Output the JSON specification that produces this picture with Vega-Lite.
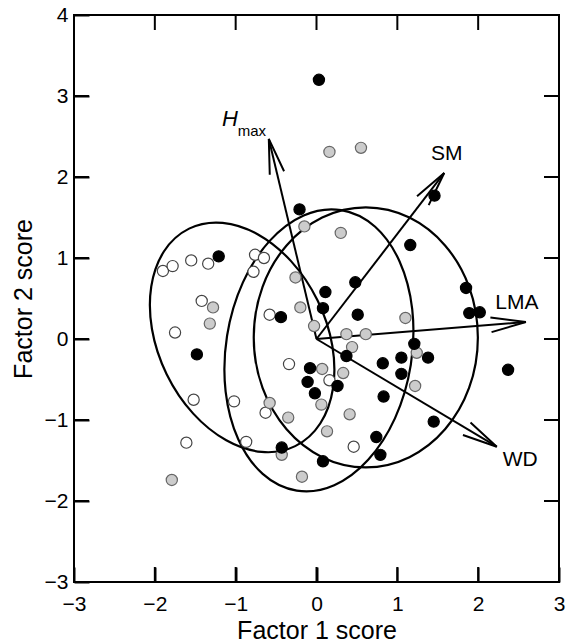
{
  "$schema": "https://vega.github.io/schema/vega-lite/v6.json",
  "width": 485,
  "height": 567,
  "autosize": {"type": "none"},
  "padding": {"left": 74, "top": 15, "right": 7, "bottom": 61},
  "background": "white",
  "config": {
    "font": "Liberation Sans",
    "view": {"stroke": "black", "strokeWidth": 2}
  },
  "datasets": {
    "xticks": [{"v": -3}, {"v": -2}, {"v": -1}, {"v": 0}, {"v": 1}, {"v": 2}, {"v": 3}],
    "yticks": [{"v": -3}, {"v": -2}, {"v": -1}, {"v": 0}, {"v": 1}, {"v": 2}, {"v": 3}, {"v": 4}],
    "arrows": [
      {"label": "Hmax", "x0": 0, "y0": 0, "x": -0.59, "y": 2.47},
      {"label": "SM", "x0": 0, "y0": 0, "x": 1.58, "y": 2.05},
      {"label": "LMA", "x0": 0, "y0": 0, "x": 2.59, "y": 0.21},
      {"label": "WD", "x0": 0, "y0": 0, "x": 2.23, "y": -1.33}
    ],
    "pts": [
      {"g": "open", "x": -1.90, "y": 0.84}, {"g": "open", "x": -1.78, "y": 0.90}, {"g": "open", "x": -1.55, "y": 0.97},
      {"g": "open", "x": -1.34, "y": 0.93}, {"g": "open", "x": -0.76, "y": 1.04}, {"g": "open", "x": -0.65, "y": 1.00},
      {"g": "open", "x": -0.78, "y": 0.83}, {"g": "open", "x": -1.42, "y": 0.47}, {"g": "open", "x": -1.75, "y": 0.08},
      {"g": "open", "x": -0.58, "y": 0.30}, {"g": "open", "x": -0.34, "y": -0.31}, {"g": "open", "x": -1.52, "y": -0.75},
      {"g": "open", "x": -1.02, "y": -0.77}, {"g": "open", "x": -0.63, "y": -0.91}, {"g": "open", "x": -1.61, "y": -1.28},
      {"g": "open", "x": -0.87, "y": -1.27}, {"g": "open", "x": 0.16, "y": -0.51}, {"g": "open", "x": 0.46, "y": -1.33},
      {"g": "gray", "x": -0.15, "y": 1.39}, {"g": "gray", "x": -0.26, "y": 0.76}, {"g": "gray", "x": -1.28, "y": 0.39},
      {"g": "gray", "x": -1.32, "y": 0.19}, {"g": "gray", "x": -0.20, "y": 0.39}, {"g": "gray", "x": -0.03, "y": 0.16},
      {"g": "gray", "x": 0.07, "y": -0.37}, {"g": "gray", "x": 0.06, "y": -0.81}, {"g": "gray", "x": -0.58, "y": -0.79},
      {"g": "gray", "x": -0.35, "y": -0.97}, {"g": "gray", "x": 0.13, "y": -1.14}, {"g": "gray", "x": -0.43, "y": -1.43},
      {"g": "gray", "x": -0.18, "y": -1.70}, {"g": "gray", "x": -1.79, "y": -1.74}, {"g": "gray", "x": 0.16, "y": 2.31},
      {"g": "gray", "x": 0.55, "y": 2.36}, {"g": "gray", "x": 0.30, "y": 1.31}, {"g": "gray", "x": 1.10, "y": 0.26},
      {"g": "gray", "x": 0.37, "y": 0.06}, {"g": "gray", "x": 0.61, "y": 0.06}, {"g": "gray", "x": 0.44, "y": -0.10},
      {"g": "gray", "x": 1.24, "y": -0.17}, {"g": "gray", "x": 1.22, "y": -0.58}, {"g": "gray", "x": 0.33, "y": -0.42},
      {"g": "gray", "x": 0.41, "y": -0.93},
      {"g": "black", "x": -1.21, "y": 1.02}, {"g": "black", "x": -1.48, "y": -0.19}, {"g": "black", "x": -0.44, "y": 0.27},
      {"g": "black", "x": 0.11, "y": 0.58}, {"g": "black", "x": 0.08, "y": 0.38}, {"g": "black", "x": -0.08, "y": -0.36},
      {"g": "black", "x": -0.11, "y": -0.53}, {"g": "black", "x": -0.02, "y": -0.67}, {"g": "black", "x": -0.43, "y": -1.34},
      {"g": "black", "x": 0.08, "y": -1.51}, {"g": "black", "x": 0.03, "y": 3.20}, {"g": "black", "x": 1.46, "y": 1.77},
      {"g": "black", "x": -0.21, "y": 1.60}, {"g": "black", "x": 1.16, "y": 1.16}, {"g": "black", "x": 0.48, "y": 0.70},
      {"g": "black", "x": 0.51, "y": 0.30}, {"g": "black", "x": 0.37, "y": -0.21}, {"g": "black", "x": 1.85, "y": 0.63},
      {"g": "black", "x": 1.89, "y": 0.32}, {"g": "black", "x": 2.02, "y": 0.33}, {"g": "black", "x": 1.21, "y": -0.06},
      {"g": "black", "x": 1.05, "y": -0.23}, {"g": "black", "x": 1.38, "y": -0.23}, {"g": "black", "x": 0.82, "y": -0.30},
      {"g": "black", "x": 1.05, "y": -0.43}, {"g": "black", "x": 2.37, "y": -0.38}, {"g": "black", "x": 0.83, "y": -0.71},
      {"g": "black", "x": 0.26, "y": -0.58}, {"g": "black", "x": 1.45, "y": -1.02}, {"g": "black", "x": 0.74, "y": -1.21},
      {"g": "black", "x": 0.79, "y": -1.43}
    ]
  },
  "layer": [
    {
      "data": {"values": [{"group": "open", "cx": -0.92, "cy": 0.02}]},
      "mark": {"type": "point", "filled": false, "opacity": 1, "stroke": "black", "strokeWidth": 2.2,
        "shape": "M-1,0C-1,-0.3833,-0.5523,-0.694,0,-0.694C0.5523,-0.694,1,-0.3833,1,0C1,0.3833,0.5523,0.694,0,0.694C-0.5523,0.694,-1,0.3833,-1,0Z",
        "size": 58564, "angle": 64},
      "encoding": {
        "x": {"field": "cx", "type": "quantitative", "scale": {"domain": [-3, 3], "nice": false, "zero": false},
          "axis": {"orient": "bottom", "values": [-3, -2, -1, 0, 1, 2, 3],
            "grid": false, "domain": false, "ticks": true, "tickSize": -15, "tickWidth": 2, "tickColor": "#000000",
            "labelFlush": false, "labelOverlap": false, "labelPadding": 26,
            "labelFont": "Liberation Sans", "labelFontSize": 21, "labelColor": "black",
            "title": "Factor 1 score", "titleFont": "Liberation Sans", "titleFontSize": 25, "titleFontWeight": "normal", "titleColor": "black",
            "titleX": 242.5, "titleY": 56, "titleBaseline": "alphabetic", "titleAlign": "center"}},
        "y": {"field": "cy", "type": "quantitative", "scale": {"domain": [-3, 4], "nice": false, "zero": false},
          "axis": {"orient": "left", "values": [-3, -2, -1, 0, 1, 2, 3, 4],
            "grid": false, "domain": false, "ticks": true, "tickSize": -15, "tickWidth": 2, "tickColor": "#000000",
            "labelFlush": false, "labelOverlap": false, "labelPadding": 21,
            "labelFont": "Liberation Sans", "labelFontSize": 21, "labelColor": "black",
            "title": "Factor 2 score", "titleFont": "Liberation Sans", "titleFontSize": 25, "titleFontWeight": "normal", "titleColor": "black",
            "titleAngle": -90, "titleX": -51, "titleY": 283.5, "titleBaseline": "middle", "titleAlign": "center"}}
      }
    },
    {
      "data": {"values": [{"group": "gray", "cx": 0.03, "cy": -0.14}]},
      "mark": {"type": "point", "filled": false, "opacity": 1, "stroke": "black", "strokeWidth": 2.2,
        "shape": "M-1,0C-1,-0.3618,-0.5523,-0.655,0,-0.655C0.5523,-0.655,1,-0.3618,1,0C1,0.3618,0.5523,0.655,0,0.655C-0.5523,0.655,-1,0.3618,-1,0Z",
        "size": 80656, "angle": 99},
      "encoding": {
        "x": {"field": "cx", "type": "quantitative", "axis": null},
        "y": {"field": "cy", "type": "quantitative", "axis": null}
      }
    },
    {
      "data": {"values": [{"group": "black", "cx": 0.61, "cy": 0.02}]},
      "mark": {"type": "point", "filled": false, "opacity": 1, "stroke": "black", "strokeWidth": 2.2,
        "shape": "M-1,0C-1,-0.4761,-0.5523,-0.862,0,-0.862C0.5523,-0.862,1,-0.4761,1,0C1,0.4761,0.5523,0.862,0,0.862C-0.5523,0.862,-1,0.4761,-1,0Z",
        "size": 67600, "angle": 90},
      "encoding": {
        "x": {"field": "cx", "type": "quantitative", "axis": null},
        "y": {"field": "cy", "type": "quantitative", "axis": null}
      }
    },
    {
      "data": {"name": "xticks"},
      "mark": {"type": "tick", "orient": "vertical", "size": 15, "thickness": 2, "yOffset": -7.5, "color": "black", "opacity": 1},
      "encoding": {"x": {"field": "v", "type": "quantitative", "axis": null}, "y": {"datum": -3, "type": "quantitative", "axis": null}}
    },
    {
      "data": {"name": "xticks"},
      "mark": {"type": "tick", "orient": "vertical", "size": 15, "thickness": 2, "yOffset": 7.5, "color": "black", "opacity": 1},
      "encoding": {"x": {"field": "v", "type": "quantitative", "axis": null}, "y": {"datum": 4, "type": "quantitative", "axis": null}}
    },
    {
      "data": {"name": "yticks"},
      "mark": {"type": "tick", "orient": "horizontal", "size": 15, "thickness": 2, "xOffset": 7.5, "color": "black", "opacity": 1},
      "encoding": {"y": {"field": "v", "type": "quantitative", "axis": null}, "x": {"datum": -3, "type": "quantitative", "axis": null}}
    },
    {
      "data": {"name": "yticks"},
      "mark": {"type": "tick", "orient": "horizontal", "size": 15, "thickness": 2, "xOffset": -7.5, "color": "black", "opacity": 1},
      "encoding": {"y": {"field": "v", "type": "quantitative", "axis": null}, "x": {"datum": 3, "type": "quantitative", "axis": null}}
    },
    {
      "data": {"name": "arrows"},
      "mark": {"type": "rule", "stroke": "black", "strokeWidth": 2},
      "encoding": {
        "x": {"field": "x0", "type": "quantitative", "axis": null},
        "y": {"field": "y0", "type": "quantitative", "axis": null},
        "x2": {"field": "x"},
        "y2": {"field": "y"}
      }
    },
    {
      "data": {"name": "arrows"},
      "transform": [{"filter": "datum.label == 'Hmax'"}],
      "mark": {"type": "point", "filled": false, "opacity": 1, "stroke": "black", "strokeWidth": 2, "shape": "M-1,-0.21L0,0L-1,0.21", "size": 4900, "angle": -103.4},
      "encoding": {"x": {"field": "x", "type": "quantitative", "axis": null}, "y": {"field": "y", "type": "quantitative", "axis": null}}
    },
    {
      "data": {"name": "arrows"},
      "transform": [{"filter": "datum.label == 'SM'"}],
      "mark": {"type": "point", "filled": false, "opacity": 1, "stroke": "black", "strokeWidth": 2, "shape": "M-1,-0.21L0,0L-1,0.21", "size": 4900, "angle": -52.4},
      "encoding": {"x": {"field": "x", "type": "quantitative", "axis": null}, "y": {"field": "y", "type": "quantitative", "axis": null}}
    },
    {
      "data": {"name": "arrows"},
      "transform": [{"filter": "datum.label == 'LMA'"}],
      "mark": {"type": "point", "filled": false, "opacity": 1, "stroke": "black", "strokeWidth": 2, "shape": "M-1,-0.21L0,0L-1,0.21", "size": 4900, "angle": -4.6},
      "encoding": {"x": {"field": "x", "type": "quantitative", "axis": null}, "y": {"field": "y", "type": "quantitative", "axis": null}}
    },
    {
      "data": {"name": "arrows"},
      "transform": [{"filter": "datum.label == 'WD'"}],
      "mark": {"type": "point", "filled": false, "opacity": 1, "stroke": "black", "strokeWidth": 2, "shape": "M-1,-0.21L0,0L-1,0.21", "size": 4900, "angle": 30.9},
      "encoding": {"x": {"field": "x", "type": "quantitative", "axis": null}, "y": {"field": "y", "type": "quantitative", "axis": null}}
    },
    {
      "data": {"values": [
        {"text": "SM", "x": 1.61, "y": 2.28},
        {"text": "LMA", "x": 2.48, "y": 0.44},
        {"text": "WD", "x": 2.52, "y": -1.49}
      ]},
      "mark": {"type": "text", "font": "Liberation Sans", "fontSize": 21, "align": "center", "baseline": "middle", "color": "black"},
      "encoding": {"x": {"field": "x", "type": "quantitative", "axis": null}, "y": {"field": "y", "type": "quantitative", "axis": null}, "text": {"field": "text"}}
    },
    {
      "data": {"values": [{"text": "H", "x": -1.07, "y": 2.72}]},
      "mark": {"type": "text", "font": "Liberation Sans", "fontSize": 22, "fontStyle": "italic", "align": "center", "baseline": "middle", "color": "black"},
      "encoding": {"x": {"field": "x", "type": "quantitative", "axis": null}, "y": {"field": "y", "type": "quantitative", "axis": null}, "text": {"field": "text"}}
    },
    {
      "data": {"values": [{"text": "max", "x": -0.80, "y": 2.57}]},
      "mark": {"type": "text", "font": "Liberation Sans", "fontSize": 15, "align": "center", "baseline": "middle", "color": "black"},
      "encoding": {"x": {"field": "x", "type": "quantitative", "axis": null}, "y": {"field": "y", "type": "quantitative", "axis": null}, "text": {"field": "text"}}
    },
    {
      "data": {"name": "pts"},
      "mark": {"type": "point", "shape": "circle", "filled": true, "opacity": 1, "size": 125, "strokeWidth": 1.2},
      "encoding": {
        "x": {"field": "x", "type": "quantitative", "axis": null},
        "y": {"field": "y", "type": "quantitative", "axis": null},
        "fill": {"field": "g", "type": "nominal", "scale": {"domain": ["open", "gray", "black"], "range": ["#ffffff", "#cccccc", "#000000"]}, "legend": null},
        "stroke": {"field": "g", "type": "nominal", "scale": {"domain": ["open", "gray", "black"], "range": ["#444444", "#666666", "#000000"]}, "legend": null}
      }
    }
  ],
  "resolve": {"axis": {"x": "independent", "y": "independent"}}
}
